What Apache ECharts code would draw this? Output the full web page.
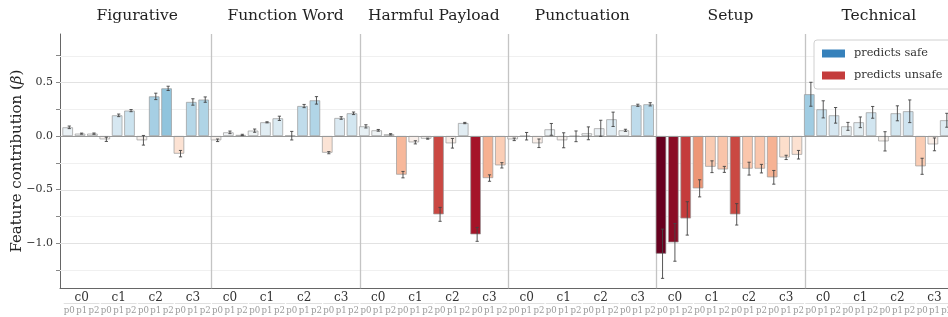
<!DOCTYPE html>
<html><head><meta charset="utf-8">
<script src="https://cdn.jsdelivr.net/npm/echarts@6/dist/echarts.min.js"></script>
<style>html,body{margin:0;padding:0;overflow:hidden;background:#fff}#c{width:960px;height:317px}</style>
</head><body><div id="c"></div>
<script>
// ---- data ----
const panels = ['Figurative','Function Word','Harmful Payload','Punctuation','Setup','Technical'];
const clusters = ['c0','c1','c2','c3'];
const prompts = ['p0','p1','p2'];

const figurative     = [0.081,0.022,0.022, -0.031,0.193,0.237, -0.040,0.370,0.445, -0.165,0.318,0.340];
const figurativeErr  = [0.012,0.005,0.006, 0.020,0.012,0.010, 0.045,0.030,0.020, 0.030,0.030,0.025];
const functionWord    = [-0.040,0.034,0.010, 0.050,0.128,0.165, 0.003,0.280,0.333, -0.156,0.168,0.212];
const functionWordErr = [0.012,0.012,0.006, 0.015,0.005,0.020, 0.040,0.015,0.035, 0.010,0.012,0.012];
const harmfulPayload    = [0.090,0.053,0.016, -0.361,-0.059,-0.025, -0.732,-0.068,0.121, -0.919,-0.393,-0.274];
const harmfulPayloadErr = [0.015,0.008,0.006, 0.030,0.015,0.005, 0.065,0.045,0.006, 0.065,0.030,0.025];
const punctuation    = [-0.031,-0.002,-0.068, 0.062,-0.040,-0.003, 0.025,0.072,0.156, 0.053,0.287,0.296];
const punctuationErr = [0.012,0.035,0.040, 0.055,0.070,0.050, 0.060,0.075,0.067, 0.010,0.010,0.015];
const setup    = [-1.100,-0.994,-0.770, -0.489,-0.287,-0.312, -0.732,-0.305,-0.305, -0.386,-0.200,-0.175];
const setupErr = [0.230,0.176,0.156, 0.080,0.055,0.028, 0.100,0.060,0.040, 0.064,0.020,0.040];
const technical    = [0.390,0.249,0.193, 0.090,0.128,0.221, -0.050,0.212,0.231, -0.283,-0.078,0.147];
const technicalErr = [0.112,0.080,0.073, 0.037,0.050,0.055, 0.090,0.070,0.106, 0.075,0.060,0.065];

const yLabelTicks = [-1.0,-0.5,0.0,0.5];
const yMinorTicks = [-1.25,-1.0,-0.75,-0.5,-0.25,0.0,0.25,0.5,0.75];
const gridMajor = [-1.0,-0.5,0.5];
const gridMinor = [-1.25,-0.75,-0.25,0.25,0.75];
const legendNames = ['predicts safe','predicts unsafe'];

// ---- derived ----
const values = [figurative,functionWord,harmfulPayload,punctuation,setup,technical].flat();
const errors = [figurativeErr,functionWordErr,harmfulPayloadErr,punctuationErr,setupErr,technicalErr].flat();
const perPanel = clusters.length*prompts.length;
const X_MIN = -0.75, X_MAX = values.length - 0.25;
const Y_MIN = -1.423, Y_MAX = 0.953;
const FONT = "'DejaVu Serif', 'Liberation Serif', serif";

const RdBu = ['#67001f','#b2182b','#d6604d','#f4a582','#fddbc7','#f7f7f7','#d1e5f0','#92c5de','#4393c3','#2166ac','#053061'];
function hex(c){return [1,3,5].map(i=>parseInt(c.slice(i,i+2),16));}
function cmap(t){
  t=Math.max(0,Math.min(1,t)); const f=t*10, i=Math.min(9,Math.floor(f)), r=f-i;
  const a=hex(RdBu[i]), b=hex(RdBu[i+1]);
  return 'rgb('+a.map((v,k)=>Math.round(v+(b[k]-v)*r)).join(',')+')';
}
const vmax = Math.max(...values.map(Math.abs));
const colorOf = v => cmap(0.5 + v/(2*vmax));

const panelCenters = panels.map((_,k)=>k*perPanel + (perPanel-1)/2);
const panelBounds = panels.slice(1).map((_,k)=>(k+1)*perPanel - 0.5);
const clusterCenters = [], promptPos = [];
values.forEach((_,i)=>{ promptPos.push(i); if(i%3===1) clusterCenters.push(i); });

const chart = echarts.init(document.getElementById('c'));
const hline = (color,w)=>(p,api)=>{
  const y=api.value(1), a=api.coord([X_MIN,y]), b=api.coord([X_MAX,y]);
  const yy=Math.round(a[1])+0.5;
  return {type:'line',shape:{x1:a[0],y1:yy,x2:b[0],y2:yy},style:{stroke:color,lineWidth:w}};
};
chart.setOption({
  animation:false,
  grid:{left:60,top:34,width:896.1,height:254.3,containLabel:false,outerBoundsMode:'none'},
  xAxis:[
    {type:'value',min:X_MIN,max:X_MAX,position:'bottom',
     axisLine:{show:true,onZero:false,lineStyle:{color:'#666',width:1}},
     axisTick:{show:false},axisLabel:{show:false},splitLine:{show:false}},
    {type:'value',min:X_MIN,max:X_MAX,position:'bottom',
     axisLine:{show:false,onZero:false},axisTick:{show:false},splitLine:{show:false},
     axisLabel:{customValues:promptPos,formatter:v=>prompts[Math.round(v)%3],margin:18,hideOverlap:false,
       fontFamily:FONT,fontSize:8.6,color:'#999'}},
    {type:'value',min:X_MIN,max:X_MAX,position:'bottom',
     axisLine:{show:false,onZero:false},axisTick:{show:false},splitLine:{show:false},
     axisLabel:{customValues:clusterCenters,formatter:v=>clusters[Math.round((v-1)/3)%4],margin:4,
       fontFamily:FONT,fontSize:12,color:'#333'}},
    {type:'value',min:X_MIN,max:X_MAX,position:'top',
     axisLine:{show:false,onZero:false},axisTick:{show:false},splitLine:{show:false},
     axisLabel:{customValues:panelCenters,formatter:v=>panels[Math.round((v-(perPanel-1)/2)/perPanel)],margin:10,
       fontFamily:FONT,fontSize:15.5,color:'#222'}}
  ],
  yAxis:{type:'value',min:Y_MIN,max:Y_MAX,
    name:'Feature contribution ({i|β})',nameLocation:'middle',nameGap:43,nameRotate:90,nameMoveOverlap:false,
    nameTextStyle:{fontFamily:FONT,fontSize:15,color:'#222',verticalAlign:'middle',rich:{i:{fontFamily:FONT,fontStyle:'italic',fontSize:15,color:'#222'}}},
    axisLine:{show:true,onZero:false,lineStyle:{color:'#666',width:1}},
    axisTick:{show:true,customValues:yMinorTicks,length:4,lineStyle:{color:'#888'}},
    axisLabel:{customValues:yLabelTicks,formatter:v=>(v<0?'\u2212':'')+Math.abs(v).toFixed(1),
      fontFamily:FONT,fontSize:11,color:'#333',margin:7},
    splitLine:{show:false}},
  legend:{data:legendNames,orient:'vertical',left:814,top:40,
    padding:[8,12,8,8],itemWidth:23,itemHeight:8,itemGap:11,
    backgroundColor:'#fff',borderColor:'#d0d0d0',borderWidth:1,borderRadius:3,
    icon:'rect',textStyle:{fontFamily:FONT,fontSize:11.3,color:'#333',padding:[0,0,0,4]}},
  series:[
    {type:'custom',z:1,silent:true,data:gridMinor.map(v=>[0,v]),renderItem:hline('#f0f0f0',1)},
    {type:'custom',z:1,silent:true,data:gridMajor.map(v=>[0,v]),renderItem:hline('#e2e2e2',1)},
    {type:'custom',z:1,silent:true,data:panelBounds.map(x=>[x,0]),renderItem:(p,api)=>{
      const a=api.coord([api.value(0),Y_MAX]), b=api.coord([api.value(0),Y_MIN]);
      const xx=Math.round(a[0])+0.5;
      return {type:'line',shape:{x1:xx,y1:a[1],x2:xx,y2:b[1]},style:{stroke:'#c4c4c4',lineWidth:1.3}};
    }},
    {type:'bar',z:2,barWidth:10.5,data:values.map((v,i)=>({value:[i,v],itemStyle:{color:colorOf(v)}})),
     itemStyle:{borderColor:'#9a9a9a',borderWidth:0.7}},
    {type:'custom',z:3,silent:true,data:[[0,0]],renderItem:hline('#999',1.2)},
    {type:'custom',z:4,silent:true,data:values.map((v,i)=>[i,v,errors[i]]),renderItem:(p,api)=>{
      const x=api.value(0), v=api.value(1), e=api.value(2);
      const a=api.coord([x,v+e]), b=api.coord([x,v-e]);
      const s={stroke:'#444',lineWidth:0.9};
      return {type:'group',children:[
        {type:'line',shape:{x1:a[0],y1:a[1],x2:b[0],y2:b[1]},style:s},
        {type:'line',shape:{x1:a[0]-1.6,y1:a[1],x2:a[0]+1.6,y2:a[1]},style:s},
        {type:'line',shape:{x1:b[0]-1.6,y1:b[1],x2:b[0]+1.6,y2:b[1]},style:s}]};
    }},
    {type:'custom',z:1,silent:true,clip:false,data:clusterCenters.map(x=>[x,0]),renderItem:(p,api)=>{
      const x=api.value(0), a=api.coord([x-1.45,Y_MIN]), b=api.coord([x+1.45,Y_MIN]);
      const yy=Math.round(a[1]+15)+0.5;
      return {type:'line',shape:{x1:a[0],y1:yy,x2:b[0],y2:yy},style:{stroke:'#e0e0e0',lineWidth:1}};
    }},
    {type:'bar',name:legendNames[0],data:[],itemStyle:{color:'#3681bb'}},
    {type:'bar',name:legendNames[1],data:[],itemStyle:{color:'#c43c3c'}}
  ]
});
</script></body></html>
